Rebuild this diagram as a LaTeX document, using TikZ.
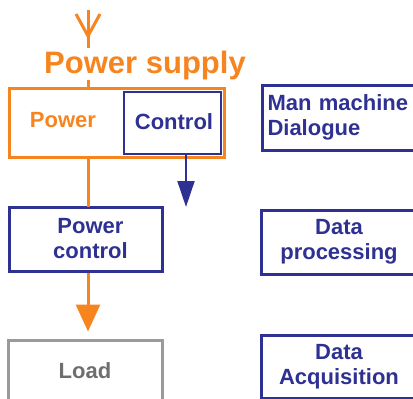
\documentclass[tikz,border=0pt]{standalone}
\usepackage{fontspec}
\setmainfont{Liberation Sans}
\usetikzlibrary{arrows.meta}
\definecolor{psorange}{HTML}{F6851F}
\definecolor{psblue}{HTML}{2E3192}
\definecolor{psgray}{HTML}{9A9A9A}
\definecolor{psgraytext}{HTML}{6D6E70}
\tikzset{
  lbl/.style={font=\fontsize{22}{25}\selectfont\bfseries, inner sep=0pt},
  bluebox/.style={draw=psblue, line width=3pt, rectangle, inner sep=0pt, text=psblue, lbl, align=center},
  orangeline/.style={draw=psorange, line width=3pt},
  blueline/.style={draw=psblue, line width=2pt},
}
\begin{document}
\begin{tikzpicture}[x=1pt,y=-1pt]
\useasboundingbox (0,0) rectangle (413,399);
\clip (0,0) rectangle (413,399);
% antenna
\coordinate (ant) at (88,10);
\coordinate (antj) at (88,36);
\coordinate (antb) at (88,48);
\coordinate (antl) at (76,14);
\coordinate (antr) at (100,14);
\draw[orangeline] (ant) -- (antb);
\draw[orangeline] (antl) -- (antj) -- (antr);
% power supply
\node[lbl, font=\fontsize{31}{33}\selectfont\bfseries, text=psorange] (ps) at (145,65) {Power supply};
\node[draw=psorange, line width=3pt, minimum width=215pt, minimum height=69pt, inner sep=0pt] (outer) at (116.5,122.5) {};
\draw[orangeline] (88,80) -- (88,88);
\node[lbl, text=psorange] (power) at (63,120) {Power};
\node[draw=psblue, line width=2pt, minimum width=97pt, minimum height=62pt, inner sep=0pt] (ctrlbox) at (172.5,123) {};
\node[lbl, text=psblue] (ctrl) at (174,122) {Control};
% power control
\node[bluebox, minimum width=153pt, minimum height=64pt] (pc) at (85.5,239) {\hspace{10pt}Power\\\hspace{10pt}control};
% load
\node[draw=psgray, line width=3pt, minimum width=154pt, minimum height=62pt, inner sep=0pt, lbl, text=psgraytext] (load) at (85,371) {Load};
% connectors
\draw[orangeline] (88,157) -- (88,207);
\draw[orangeline, -{Triangle[length=27pt,width=24pt]}, shorten >=7pt] (pc.south -| 88,0) -- (load.north -| 88,0);
\coordinate (ctrlarrow) at (186,207);
\draw[blueline, -{Triangle[length=26pt,width=17pt]}] (ctrlbox.south -| ctrlarrow) -- (ctrlarrow);
% right column
\node[bluebox, anchor=west, minimum width=156pt, minimum height=65pt, text width=146pt, align=left, inner xsep=5pt] (mmd) at (261,117.5) {Man machine\\Dialogue};
\node[bluebox, minimum width=156pt, minimum height=64pt] (dp) at (339,242) {Data\\processing};
\node[bluebox, minimum width=156pt, minimum height=63pt] (da) at (339,366.5) {Data\\Acquisition};
\end{tikzpicture}
\end{document}
